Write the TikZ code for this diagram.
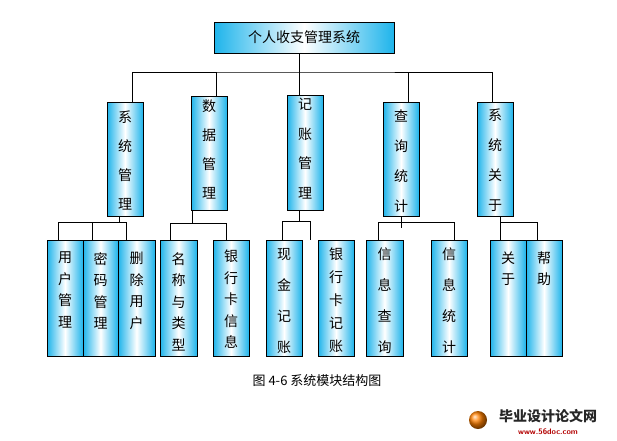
\documentclass[tikz,border=0pt]{standalone}
\usepackage{fontspec}
\newfontfamily\cjk{Noto Sans CJK SC}
\definecolor{bcyan}{RGB}{30,180,235}
\tikzset{
 box/.style={draw=black, line width=0.9pt, left color=bcyan, right color=bcyan, middle color=white, inner sep=0pt},
 ln/.style={line width=0.8pt},
}
\begin{document}
\begin{tikzpicture}[x=1pt,y=1pt]
\useasboundingbox (0,0) rectangle (617,-440);
\node[box, minimum width=180, minimum height=31, font={\cjk\fontsize{14}{16}\selectfont}] (root) at (304,-37.5) {个人收支管理系统};
\newcommand{\vb}[8]{%
 \node[box, minimum width={(#4-#2)*1pt}, minimum height={(#5-#3)*1pt}] (#1) at ({(#2+#4)/2},{-(#3+#5)/2}) {};
 \node[anchor=north, align=center, inner sep=0pt, font={\cjk\fontsize{14}{#7}\selectfont}] (#1t) at ({(#2+#4)/2},{-(#8-6)}) {#6};
}
\vb{a}{107}{102}{143}{216}{系\\统\\管\\理}{29}{117}
\vb{b}{191}{96}{227}{210}{数\\据\\管\\理}{29}{106}
\vb{c}{287}{95}{323}{210}{记\\账\\管\\理}{29.5}{104}
\vb{d}{383}{102}{419}{216}{查\\询\\统\\计}{30}{116}
\vb{e}{477}{102}{513}{216}{系\\统\\关\\于}{30}{115}
\vb{a1}{47}{240}{83}{356}{用\\户\\管\\理}{21.5}{258}
\vb{a2}{83}{240}{118}{356}{密\\码\\管\\理}{21.5}{258}
\vb{a3}{118}{240}{155}{356}{删\\除\\用\\户}{21.5}{258}
\vb{b1}{160}{240}{197}{356}{名\\称\\与\\类\\型}{21.5}{258}
\vb{b2}{213}{240}{249}{356}{银\\行\\卡\\信\\息}{21.5}{256}
\vb{c1}{266}{240}{302}{356}{现\\金\\记\\账}{31}{254}
\vb{c2}{318}{240}{354}{356}{银\\行\\卡\\记\\账}{23}{254}
\vb{d1}{366}{240}{403}{356}{信\\息\\查\\询}{31}{254}
\vb{d2}{431}{240}{467}{356}{信\\息\\统\\计}{31}{254}
\vb{e1}{490}{240}{526}{356}{关\\于}{21}{258}
\vb{e2}{526}{240}{562}{356}{帮\\助}{21}{258}
\coordinate (bus) at (299,-72);
\draw[ln] (root.south -| bus) -- (bus);
\draw[ln] (a.north -| 132,0) |- (bus) -| (e.north -| 492,0);
\draw[ln] (b.north -| 216,0) -- (216,-72);
\draw[ln] (c.north -| 299,0) -- (299,-72);
\draw[ln] (d.north -| 408,0) -- (408,-72);
\draw[ln] (a.south -| 119,0) -- (119,-222);
\draw[ln] (a1.north -| 58,0) |- (126,-222) -- (a3.north -| 126,0);
\draw[ln] (a2.north -| 92,0) -- (92,-222);
\draw[ln] (b.south -| 192,0) -- (192,-223);
\draw[ln] (b1.north -| 170,0) |- (226,-223) -- (b2.north -| 226,0);
\draw[ln] (c.south -| 299,0) -- (299,-221);
\draw[ln] (c1.north -| 282,0) |- (310,-221) -- (c2.north -| 310,0);
\draw[ln] (d.south -| 401,0) -- (401,-228);
\draw[ln] (d1.north -| 378,0) |- (454,-222) -- (d2.north -| 454,0);
\draw[ln] (e.south -| 500,0) -- (500,-222);
\draw[ln] (e1.north -| 500,0) |- (537,-222) -- (e2.north -| 537,0);
\node[font={\cjk\fontsize{13}{15}\selectfont}] (cap) at (317,-381) {图 4-6 系统模块结构图};
\shade[ball color=orange] (478,-420) circle (9);
\node[font={\cjk\bfseries\fontsize{14}{16}\selectfont}, text=black!85] (wm) at (548,-416) {毕业设计论文网};
\node[font={\sffamily\bfseries\fontsize{8}{9}\selectfont}, text=red!70!black] (wm2) at (548,-432) {www.56doc.com};
\end{tikzpicture}
\end{document}
